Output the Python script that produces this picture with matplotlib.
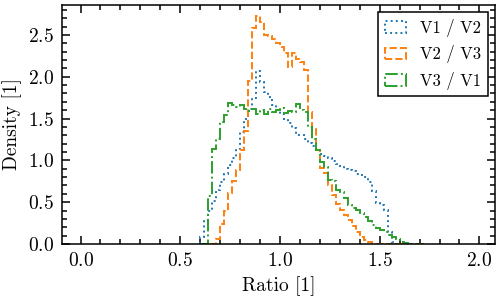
import numpy as np
import matplotlib
matplotlib.use("Agg")
import matplotlib.pyplot as plt

# histogram bins (width 0.02) shared by all three ratios
bin_edges = np.round(np.arange(0.60, 1.7201, 0.02), 2)

# density values, one per bin
v1_v2 = [0.09, 0.29, 0.39, 0.51, 0.65, 0.74, 0.84, 0.94, 1.03, 1.14,
         1.34, 1.50, 1.62, 1.74, 2.07, 1.94, 1.82, 1.76, 1.66, 1.60,
         1.56, 1.50, 1.45, 1.39, 1.30, 1.30, 1.26, 1.21, 1.17, 1.12,
         1.08, 1.05, 1.03, 0.99, 0.96, 0.93, 0.90, 0.89, 0.87, 0.84,
         0.82, 0.80, 0.74, 0.63, 0.49, 0.47, 0.41, 0.14, 0.02, 0.0,
         0.0, 0.0, 0.0, 0.0, 0.0, 0.0]
v2_v3 = [0.0, 0.0, 0.0, 0.0, 0.06, 0.24, 0.40, 0.61, 0.75, 0.88,
         1.12, 1.35, 1.95, 2.58, 2.72, 2.66, 2.50, 2.49, 2.45, 2.40,
         2.36, 2.28, 2.12, 2.28, 2.21, 2.18, 2.08, 1.58, 1.38, 1.12,
         0.91, 0.85, 0.71, 0.59, 0.48, 0.41, 0.35, 0.29, 0.22, 0.15,
         0.09, 0.05, 0.02, 0.0, 0.0, 0.0, 0.0, 0.0, 0.0, 0.0,
         0.0, 0.0, 0.0, 0.0, 0.0, 0.0]
v3_v1 = [0.0, 0.0, 0.58, 1.14, 1.26, 1.46, 1.54, 1.68, 1.66, 1.64,
         1.66, 1.62, 1.59, 1.62, 1.56, 1.60, 1.55, 1.62, 1.58, 1.60,
         1.63, 1.57, 1.59, 1.58, 1.67, 1.60, 1.58, 1.40, 1.25, 1.12,
         0.98, 0.92, 0.77, 0.75, 0.65, 0.62, 0.55, 0.47, 0.43, 0.41,
         0.37, 0.32, 0.27, 0.23, 0.19, 0.17, 0.15, 0.11, 0.08, 0.06,
         0.03, 0.01, 0.0, 0.0, 0.0, 0.0]

series = [("V1 / V2", v1_v2, "#1f77b4", ":"),
          ("V2 / V3", v2_v3, "#ff7f0e", "--"),
          ("V3 / V1", v3_v1, "#2ca02c", "-.")]

plt.rcParams["font.family"] = "serif"
plt.rcParams["font.serif"] = ["cmr10"]
plt.rcParams["mathtext.fontset"] = "cm"
plt.rcParams["axes.formatter.use_mathtext"] = True
plt.rcParams["font.size"] = 14
plt.rcParams["axes.linewidth"] = 1.1

fig = plt.figure(figsize=(5.0, 2.98), dpi=100)
ax = fig.add_axes([0.124, 0.181, 0.866, 0.803])

centers = (bin_edges[:-1] + bin_edges[1:]) / 2
for name, vals, col, ls in series:
    ax.hist(centers, bins=bin_edges, weights=vals, histtype="step",
            color=col, linestyle=ls, linewidth=1.4, label=name)

ax.set_xlim(-0.093, 2.078)
ax.set_ylim(0, 2.86)
ax.set_xticks([0.0, 0.5, 1.0, 1.5, 2.0])
ax.set_yticks([0.0, 0.5, 1.0, 1.5, 2.0, 2.5])
ax.xaxis.set_minor_locator(matplotlib.ticker.MultipleLocator(0.1))
ax.yaxis.set_minor_locator(matplotlib.ticker.MultipleLocator(0.1))
ax.tick_params(which="both", direction="in", top=True, right=True, width=1.1)
ax.tick_params(which="major", length=6, pad=6)
ax.tick_params(which="minor", length=3.5)

ax.set_xlabel("Ratio [1]", labelpad=4)
ax.set_ylabel("Density [1]")

leg = ax.legend(loc="upper right", fancybox=False, edgecolor="black",
                framealpha=1, fontsize=12, handlelength=1.3,
                borderaxespad=0.45)
leg.get_frame().set_linewidth(1.1)

fig.savefig("out.png", dpi=100)
